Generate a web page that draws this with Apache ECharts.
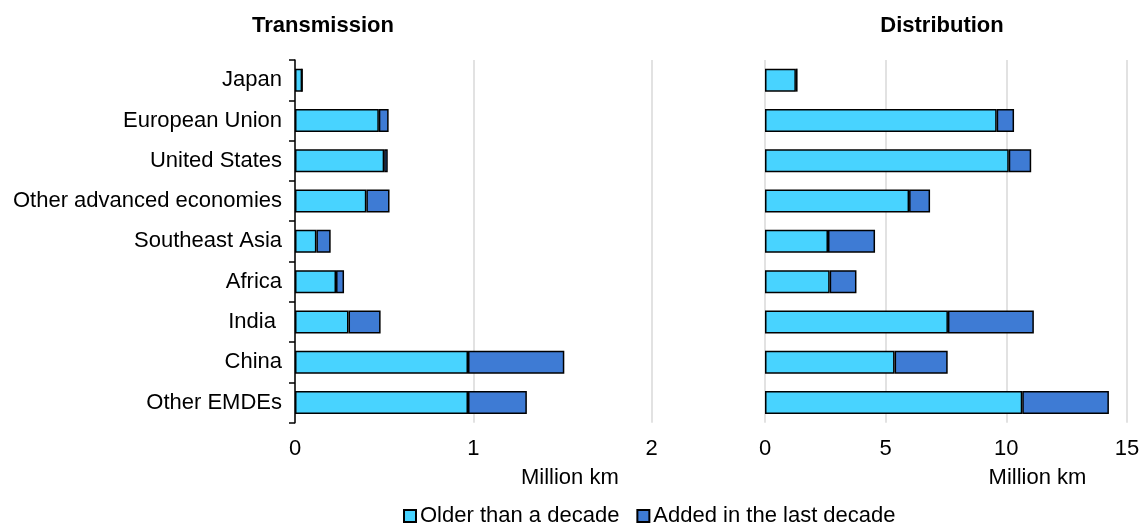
<!DOCTYPE html>
<html><head><meta charset="utf-8">
<script src="https://cdn.jsdelivr.net/npm/echarts@6/dist/echarts.min.js"></script>
<style>html,body{margin:0;padding:0;background:#fff}#c{width:1144px;height:525px}</style>
</head><body><div id="c"></div>
<script>
const categories = ['Japan','European Union','United States','Other advanced economies','Southeast Asia','Africa','India ','China','Other EMDEs'];
const seriesNames = ['Older than a decade','Added in the last decade'];
const transOld = [0.04, 0.47, 0.50, 0.40, 0.12, 0.23, 0.30, 0.97, 0.97];
const transNew = [0.0, 0.055, 0.02, 0.13, 0.08, 0.045, 0.18, 0.54, 0.33];
const distOld = [1.28, 9.6, 10.1, 5.97, 2.61, 2.68, 7.58, 5.37, 10.66];
const distNew = [0.07, 0.72, 0.93, 0.87, 1.95, 1.11, 3.56, 2.2, 3.59];
const panelTitles = ['Transmission','Distribution'];
const axisUnit = 'Million km';

const FONT = 'Arial, "Liberation Sans", sans-serif';
const LIGHT = '#48D3FF', DARK = '#3E7BD4';
const chart = echarts.init(document.getElementById('c'));

function barSeries(name, data, idx, color) {
  return {
    type: 'bar', name: name, data: data, stack: 's' + idx,
    xAxisIndex: idx, yAxisIndex: idx, barWidth: 23,
    itemStyle: { color: color, borderColor: '#000', borderWidth: 1.5 }
  };
}
const gridLine = { show: true, lineStyle: { color: '#d9d9d9', width: 1.5 } };

chart.setOption({
  animation: false,
  textStyle: { fontFamily: FONT },
  graphic: [
    { type: 'text', x: 323, y: 26, style: { text: panelTitles[0], font: 'bold 22px ' + FONT, fill: '#000', textAlign: 'center', textVerticalAlign: 'middle' } },
    { type: 'text', x: 942, y: 26, style: { text: panelTitles[1], font: 'bold 22px ' + FONT, fill: '#000', textAlign: 'center', textVerticalAlign: 'middle' } }
  ],
  legend: {
    data: seriesNames, left: 403, top: 505, padding: 0, icon: 'rect',
    itemWidth: 12, itemHeight: 12, itemGap: 17,
    textStyle: { fontSize: 22, color: '#000', fontFamily: FONT, padding: [0, 0, 0, -1] }
  },
  grid: [
    { left: 295, width: 356.7, top: 60, height: 362.7 },
    { left: 765, width: 362, top: 60, height: 362.7 }
  ],
  xAxis: [
    { gridIndex: 0, type: 'value', min: 0, max: 2, interval: 1,
      axisLine: { show: false }, axisTick: { show: false }, splitLine: gridLine,
      axisLabel: { fontSize: 22, color: '#000', margin: 15 },
      name: axisUnit, nameLocation: 'middle', nameGap: 44,
      nameTextStyle: { fontSize: 22, color: '#000', padding: [0, 0, 0, 193] } },
    { gridIndex: 1, type: 'value', min: 0, max: 15, interval: 5,
      axisLine: { show: false }, axisTick: { show: false }, splitLine: gridLine,
      axisLabel: { fontSize: 22, color: '#000', margin: 15 },
      name: axisUnit, nameLocation: 'middle', nameGap: 44,
      nameTextStyle: { fontSize: 22, color: '#000', padding: [0, 0, 0, 183] } }
  ],
  yAxis: [
    { gridIndex: 0, type: 'category', data: categories, inverse: true,
      axisLine: { show: true, lineStyle: { color: '#000', width: 1.5 } },
      axisTick: { show: true, length: 6, lineStyle: { color: '#000', width: 1.5 } },
      axisLabel: { fontSize: 22, color: '#000', margin: 13 }, z: 10 },
    { gridIndex: 1, type: 'category', data: categories, inverse: true,
      axisLine: { show: false }, axisTick: { show: false }, axisLabel: { show: false } }
  ],
  series: [
    barSeries(seriesNames[0], transOld, 0, LIGHT),
    barSeries(seriesNames[1], transNew, 0, DARK),
    barSeries(seriesNames[0], distOld, 1, LIGHT),
    barSeries(seriesNames[1], distNew, 1, DARK)
  ]
});
</script></body></html>
